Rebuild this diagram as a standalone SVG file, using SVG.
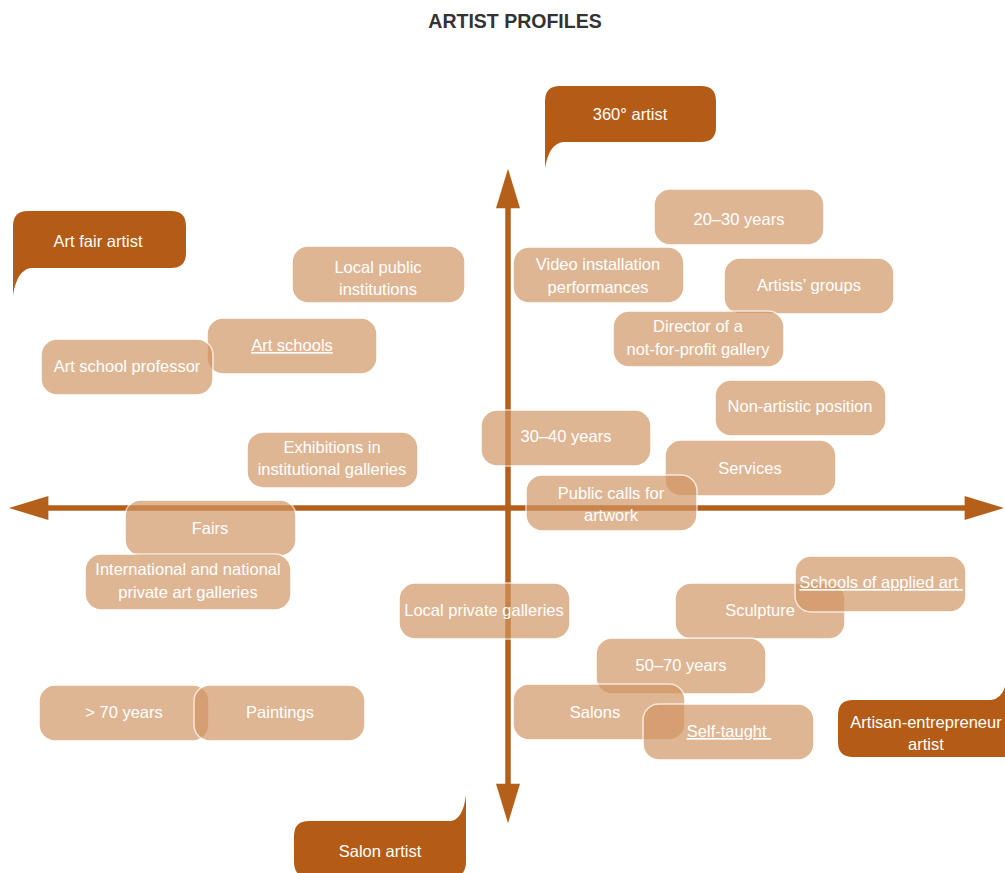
<svg xmlns="http://www.w3.org/2000/svg" width="1005" height="873" viewBox="0 0 1005 873">
<style>
  .box { fill: #d19562; stroke: #ffffff; stroke-width: 1.5; opacity: 0.68; }
  .t { font-family: "Liberation Sans", Arial, sans-serif; font-size: 16.5px; fill: #ffffff; text-anchor: middle; }
  .u { text-decoration: underline; }
  .call { fill: #b45c16; }
  .ax { stroke: #b5601a; stroke-width: 5.5; fill: none; }
  .title { font-family: "Liberation Sans", Arial, sans-serif; font-size: 19.5px; font-weight: bold; fill: #333333; text-anchor: middle; }
</style>
<defs>
  <marker id="ah" markerUnits="userSpaceOnUse" markerWidth="40" markerHeight="24" viewBox="0 0 38 23" refX="8" refY="11.5" orient="auto-start-reverse">
    <path d="M0,0 L38,11.5 L0,23 Z" fill="#b5601a"/>
  </marker>
</defs>
<rect width="1005" height="873" fill="#ffffff"/>
<text class="title" x="515" y="28">ARTIST PROFILES</text>

<g id="connectors">
  <line class="ax" x1="40" y1="508" x2="973" y2="508" marker-start="url(#ah)" marker-end="url(#ah)"/>
  <line class="ax" x1="508" y1="200" x2="508" y2="792" marker-start="url(#ah)" marker-end="url(#ah)"/>
</g>

<g id="profile-360">
  <path class="call" d="M545,101 Q545,86 560,86 L701,86 Q716,86 716,101 L716,127 Q716,142 701,142 L563,142 Q549,144 545,168 Z"/>
  <text class="t" x="630" y="120">360° artist</text>
</g>
<g id="profile-artfair">
  <path class="call" d="M13,226 Q13,211 28,211 L171,211 Q186,211 186,226 L186,253 Q186,268 171,268 L31,268 Q17,270 13,295 Z"/>
  <text class="t" x="98" y="247">Art fair artist</text>
</g>
<g id="profile-salon">
  <path class="call" d="M309,821 L451,821 Q463,819 466,795 L466,862 Q466,877 451,877 L309,877 Q294,877 294,862 L294,836 Q294,821 309,821 Z"/>
  <text class="t" x="380" y="857">Salon artist</text>
</g>
<g id="profile-artisan">
  <path class="call" d="M853,700 L991,700 Q1003,698 1006,683 L1012,757 L853,757 Q838,757 838,742 L838,715 Q838,700 853,700 Z"/>
  <text class="t" x="926" y="728">Artisan-entrepreneur</text>
  <text class="t" x="926" y="750">artist</text>
</g>

<g id="n-20-30">
  <rect class="box" x="654" y="189" width="170" height="56" rx="16"/>
  <text class="t" x="739" y="225">20–30 years</text>
</g>
<g id="n-local-public">
  <rect class="box" x="292" y="246" width="173" height="57" rx="16"/>
  <text class="t" x="378" y="273">Local public</text>
  <text class="t" x="378" y="295">institutions</text>
</g>
<g id="n-video">
  <rect class="box" x="513" y="247" width="171" height="56" rx="16"/>
  <text class="t" x="598" y="270">Video installation</text>
  <text class="t" x="598" y="293">performances</text>
</g>
<g id="n-artists-groups">
  <rect class="box" x="724" y="258" width="170" height="56" rx="16"/>
  <text class="t" x="809" y="291">Artists’ groups</text>
</g>
<g id="n-art-schools">
  <rect class="box" x="207" y="318" width="170" height="56" rx="16"/>
  <text class="t u" x="292" y="351">Art schools</text>
</g>
<g id="n-director">
  <rect class="box" x="613" y="311" width="171" height="56" rx="16"/>
  <text class="t" x="698" y="332">Director of a</text>
  <text class="t" x="698" y="355">not-for-profit gallery</text>
</g>
<g id="n-professor">
  <rect class="box" x="41" y="339" width="172" height="56" rx="16"/>
  <text class="t" x="127" y="372">Art school professor</text>
</g>
<g id="n-non-artistic">
  <rect class="box" x="715" y="380" width="171" height="56" rx="16"/>
  <text class="t" x="800" y="412">Non-artistic position</text>
</g>
<g id="n-30-40">
  <rect class="box" x="481" y="410" width="170" height="56" rx="16"/>
  <text class="t" x="566" y="442">30–40 years</text>
</g>
<g id="n-exhibitions">
  <rect class="box" x="247" y="432" width="171" height="56" rx="16"/>
  <text class="t" x="332" y="453">Exhibitions in</text>
  <text class="t" x="332" y="475">institutional galleries</text>
</g>
<g id="n-services">
  <rect class="box" x="665" y="440" width="171" height="56" rx="16"/>
  <text class="t" x="750" y="474">Services</text>
</g>
<g id="n-public-calls">
  <rect class="box" x="526" y="475" width="171" height="56" rx="16"/>
  <text class="t" x="611" y="499">Public calls for</text>
  <text class="t" x="611" y="521">artwork</text>
</g>
<g id="n-fairs">
  <rect class="box" x="125" y="500" width="171" height="56" rx="16"/>
  <text class="t" x="210" y="534">Fairs</text>
</g>
<g id="n-international">
  <rect class="box" x="85" y="554" width="206" height="56" rx="16"/>
  <text class="t" x="188" y="575">International and national</text>
  <text class="t" x="188" y="598">private art galleries</text>
</g>
<g id="n-local-private">
  <rect class="box" x="399" y="583" width="171" height="56" rx="16"/>
  <text class="t" x="484" y="616">Local private galleries</text>
</g>
<g id="n-sculpture">
  <rect class="box" x="675" y="583" width="170" height="56" rx="16"/>
  <text class="t" x="760" y="616">Sculpture</text>
</g>
<g id="n-schools-applied">
  <rect class="box" x="795" y="556" width="171" height="56" rx="16"/>
  <text class="t u" x="881" y="588">Schools of applied art&#160;</text>
</g>
<g id="n-50-70">
  <rect class="box" x="596" y="638" width="170" height="56" rx="16"/>
  <text class="t" x="681" y="671">50–70 years</text>
</g>
<g id="n-over-70">
  <rect class="box" x="39" y="685" width="170" height="56" rx="16"/>
  <text class="t" x="124" y="718">&gt; 70 years</text>
</g>
<g id="n-paintings">
  <rect class="box" x="194" y="685" width="171" height="56" rx="16"/>
  <text class="t" x="280" y="718">Paintings</text>
</g>
<g id="n-salons">
  <rect class="box" x="513" y="684" width="172" height="56" rx="16"/>
  <text class="t" x="595" y="718">Salons</text>
</g>
<g id="n-self-taught">
  <rect class="box" x="643" y="704" width="171" height="56" rx="16"/>
  <text class="t u" x="729" y="737">Self-taught&#160;</text>
</g>
</svg>
